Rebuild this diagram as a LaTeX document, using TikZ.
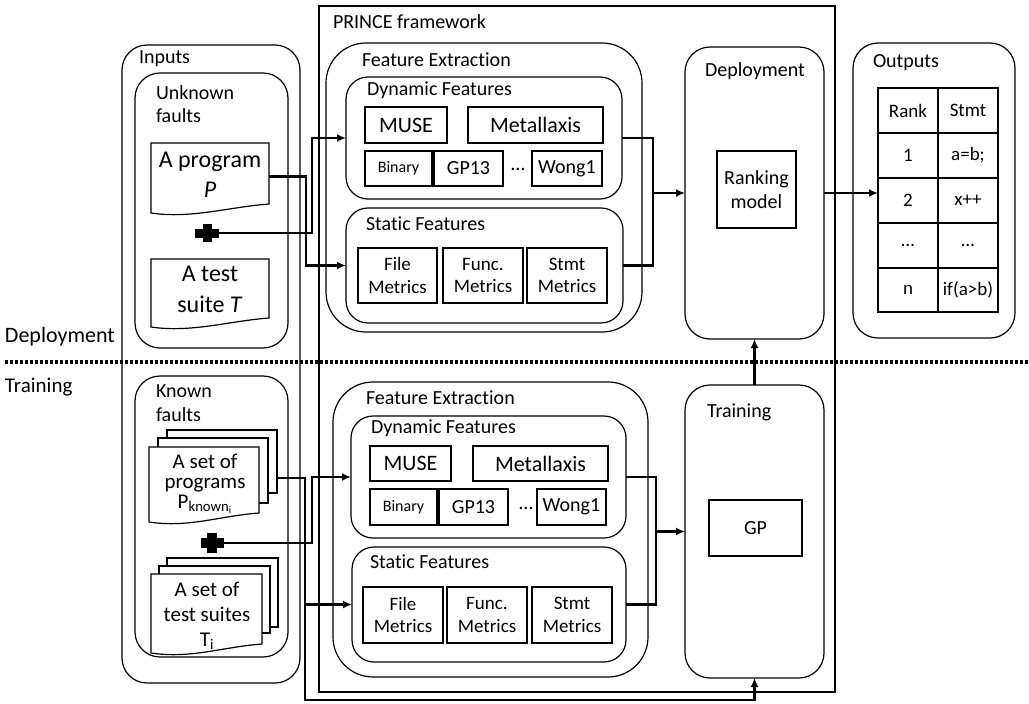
\documentclass[tikz,border=0pt]{standalone}
\usepackage{fontspec}
\setmainfont{Carlito}[Ligatures={NoCommon}]
\usetikzlibrary{arrows.meta,fit,calc}
\newcommand\docout[1]{\path[docline] (#1.north west) -- (#1.north east) -- (#1.south east) .. controls ([xshift=-40pt,yshift=-3pt]#1.south east) and ([xshift=40pt,yshift=-15pt]#1.south west) .. ([yshift=-9pt]#1.south west) -- cycle;}
\newcommand\fs[1]{\fontsize{#1}{1.2\dimexpr#1pt\relax}\selectfont}
\begin{document}
\begin{tikzpicture}[x=1pt,y=-1pt,
  every node/.style={font=\fs{20}, inner sep=0pt, outer sep=0pt},
  frame/.style={draw=black, line width=1.2pt},
  rbox/.style={draw=black, line width=1.2pt, rounded corners=#1},
  rbox/.default=25pt,
  bx/.style={draw=black, line width=1.2pt},
  txt/.style 2 args={label={[align=center, font=\fs{#1}]center:#2}},
  conn/.style={draw=black, line width=2.2pt},
  arr/.style={conn, -{Latex[length=9pt,width=8pt]}},
  lbl/.style={anchor=base west},
  docline/.style={draw=black, line width=1.2pt, fill=white},
  page/.style={draw=black, line width=1.2pt, fill=white},
  cell/.style={draw=black, line width=1.2pt, minimum width=60, minimum height=45, font=\fs{19}},
]
\useasboundingbox (0,0) rectangle (1029,704);

% frames
\node[frame, fit={(319,6) (835,692)}] (prince) {};
\node[lbl] (princel) at (333,28) {PRINCE framework};

\node[rbox=25pt, fit={(122,45) (300,683)}] (inputs) {};
\node[lbl] (inputsl) at (139,63) {Inputs};
\node[rbox=25pt, fit={(135,73) (288,348)}] (unk) {};
\node[lbl] (unkl) at (156,99) {Unknown};
\node[lbl] (unkl2) at (156,122) {faults};
\node[rbox=25pt, fit={(135,376) (288,657)}] (known) {};
\node[lbl] (knownl) at (156,397) {Known};
\node[lbl] (knownl2) at (156,421) {faults};

% phase labels and divider
\node[lbl, font=\fs{22}] (depphase) at (5,342) {Deployment};
\node[lbl, font=\fs{21}] (trphase) at (5,392) {Training};
\coordinate (dl) at (5,362);
\coordinate (dr) at (1029,362);
\draw[line width=3.5pt, dash pattern=on 3pt off 2pt] (dl) -- (dr);

% unknown faults documents
\node[fit={(151,143) (269,204)}] (prog) {};
\docout{prog}
\node[align=center, font=\fs{24}] (progt) at (210,175) {A program\\[1pt]\textit{P}};
\node[fit={(151,259) (269,318)}] (test) {};
\docout{test}
\node[align=center, font=\fs{24}] (testt) at (210,289) {A test\\[2pt]suite \textit{T}};
\node (plus1) at (207,233) {};
\fill (plus1.center) +(-12,-4.5) rectangle +(12,4.5);
\fill (plus1.center) +(-4.5,-9) rectangle +(4.5,9);

% known faults documents
\node[page, fit={(167,430) (277,493)}] (kp3) {};
\node[page, fit={(158,438) (268,503)}] (kp2) {};
\node[fit={(149,447) (259,513)}] (kp1) {};
\docout{kp1}
\node[align=center, font=\fontsize{21}{20}\selectfont] (kpt) at (205,484) {A set of\\programs\\P\textsubscript{known\textsubscript{i}}};
\node[page, fit={(167,558) (278,627)}] (ts3) {};
\node[page, fit={(159,566) (270,633)}] (ts2) {};
\node[fit={(151,574) (262,644)}] (ts1) {};
\docout{ts1}
\node[align=center, font=\fs{21}] (tst) at (207,616) {A set of\\test suites\\T\textsubscript{i}};
\node (plus2) at (212,543) {};
\fill (plus2.center) +(-11.5,-5) rectangle +(11.5,5);
\fill (plus2.center) +(-5,-10) rectangle +(5,10);

% feature extraction top
\node[rbox=40pt, fit={(326,43) (642,332)}] (fe1) {};
\node[lbl] (fe1l) at (362,66) {Feature Extraction};
\node[rbox=22pt, fit={(346,77) (622,199)}] (dyn1) {};
\node[lbl] (dyn1l) at (367,95) {Dynamic Features};
\node[bx, fit={(365,107) (447,143)}, txt={22}{MUSE}] (muse1) {};
\node[bx, fit={(468,107) (603,143)}, txt={22}{Metallaxis}] (meta1) {};
\node[bx, fit={(365,151) (432,186)}, txt={16}{Binary}] (bin1) {};
\node[bx, fit={(434,151) (503,186)}, txt={20}{GP13}] (gp131) {};
\node (dots1) at (518,169) {…};
\node[bx, fit={(532,151) (602,186)}, txt={20}{Wong1}] (wong1) {};
\node[rbox=22pt, fit={(346,208) (623,323)}] (sta1) {};
\node[lbl] (sta1l) at (366,230) {Static Features};
\node[bx, fit={(358,248) (437,303)}, txt={19}{File\\Metrics}] (file1) {};
\node[bx, fit={(443,248) (523,303)}, txt={19}{Func.\\Metrics}] (func1) {};
\node[bx, fit={(527,248) (607,303)}, txt={19}{Stmt\\Metrics}] (stmt1) {};

% feature extraction bottom
\node[rbox=40pt, fit={(333,382) (648,677)}] (fe2) {};
\node[lbl] (fe2l) at (366,404) {Feature Extraction};
\node[rbox=22pt, fit={(351,416) (626,538)}] (dyn2) {};
\node[lbl] (dyn2l) at (371,433) {Dynamic Features};
\node[bx, fit={(370,446) (451,481)}, txt={22}{MUSE}] (muse2) {};
\node[bx, fit={(473,446) (608,481)}, txt={22}{Metallaxis}] (meta2) {};
\node[bx, fit={(370,489) (437,525)}, txt={16}{Binary}] (bin2) {};
\node[bx, fit={(439,489) (508,525)}, txt={20}{GP13}] (gp132) {};
\node (dots2) at (526,508) {…};
\node[bx, fit={(537,489) (606,525)}, txt={20}{Wong1}] (wong2) {};
\node[rbox=22pt, fit={(352,547) (626,662)}] (sta2) {};
\node[lbl] (sta2l) at (370,568) {Static Features};
\node[bx, fit={(363,587) (443,643)}, txt={19}{File\\Metrics}] (file2) {};
\node[bx, fit={(447,587) (527,643)}, txt={19}{Func.\\Metrics}] (func2) {};
\node[bx, fit={(532,587) (612,643)}, txt={19}{Stmt\\Metrics}] (stmt2) {};

% deployment / training
\node[rbox=25pt, fit={(685,47) (824,339)}] (dep) {};
\node[lbl] (depl) at (705,76) {Deployment};
\node[bx, fit={(717,151) (796,228)}, txt={20}{Ranking\\model}] (rank) {};
\node[rbox=25pt, fit={(685,385) (824,678)}] (tr) {};
\node[lbl] (trl) at (707,417) {Training};
\node[bx, fit={(709,500) (802,556)}, txt={20}{GP}] (gp) {};

% outputs
\node[rbox=25pt, fit={(853,43) (1015,338)}] (out) {};
\node[lbl] (outl) at (873,67) {Outputs};
\node[cell] (t11) at (908,110.5) {Rank};
\node[cell] (t12) at (968,110.5) {Stmt};
\node[cell] (t21) at (908,155.5) {1};
\node[cell] (t22) at (968,155.5) {a=b;};
\node[cell] (t31) at (908,200.5) {2};
\node[cell] (t32) at (968,200.5) {x++};
\node[cell] (t41) at (908,245.5) {…};
\node[cell] (t42) at (968,245.5) {…};
\node[cell, minimum height=44] (t51) at (908,290) {n};
\node[cell, minimum height=44] (t52) at (968,290) {if(a>b)};

% connectors top
\coordinate (j1) at (306,220);
\coordinate (j2) at (312,200);
\draw[arr] ([yshift=-3pt]prog.east) -| (j1) |- (sta1.west);
\draw[arr] (plus1.center) ++(12,0) -| (j2) |- (dyn1.west);
\coordinate (m1) at (653,193);
\draw[conn] (dyn1.east) -| (m1);
\draw[conn] (sta1.east) -| (m1);
\draw[arr] (m1) -- (dep.west);
\draw[arr] (dep.east) -- (dep.east -| t31.west);
\draw[arr] (tr.north) -- (dep.south);

% connectors bottom
\coordinate (kpout) at (277,478);
\coordinate (j3) at (305,700);
\coordinate (j4) at (312,520);
\draw[arr] (kpout) -| (j3) -| (tr.south);
\draw[arr] (j3 |- sta2.west) -- (sta2.west);
\draw[arr] (plus2.center) ++(11.5,0) -| (j4) |- (dyn2.west);
\coordinate (m2) at (656,531.5);
\draw[conn] (dyn2.east) -| (m2);
\draw[conn] (sta2.east) -| (m2);
\draw[arr] (m2) -- (tr.west);
\end{tikzpicture}
\end{document}
